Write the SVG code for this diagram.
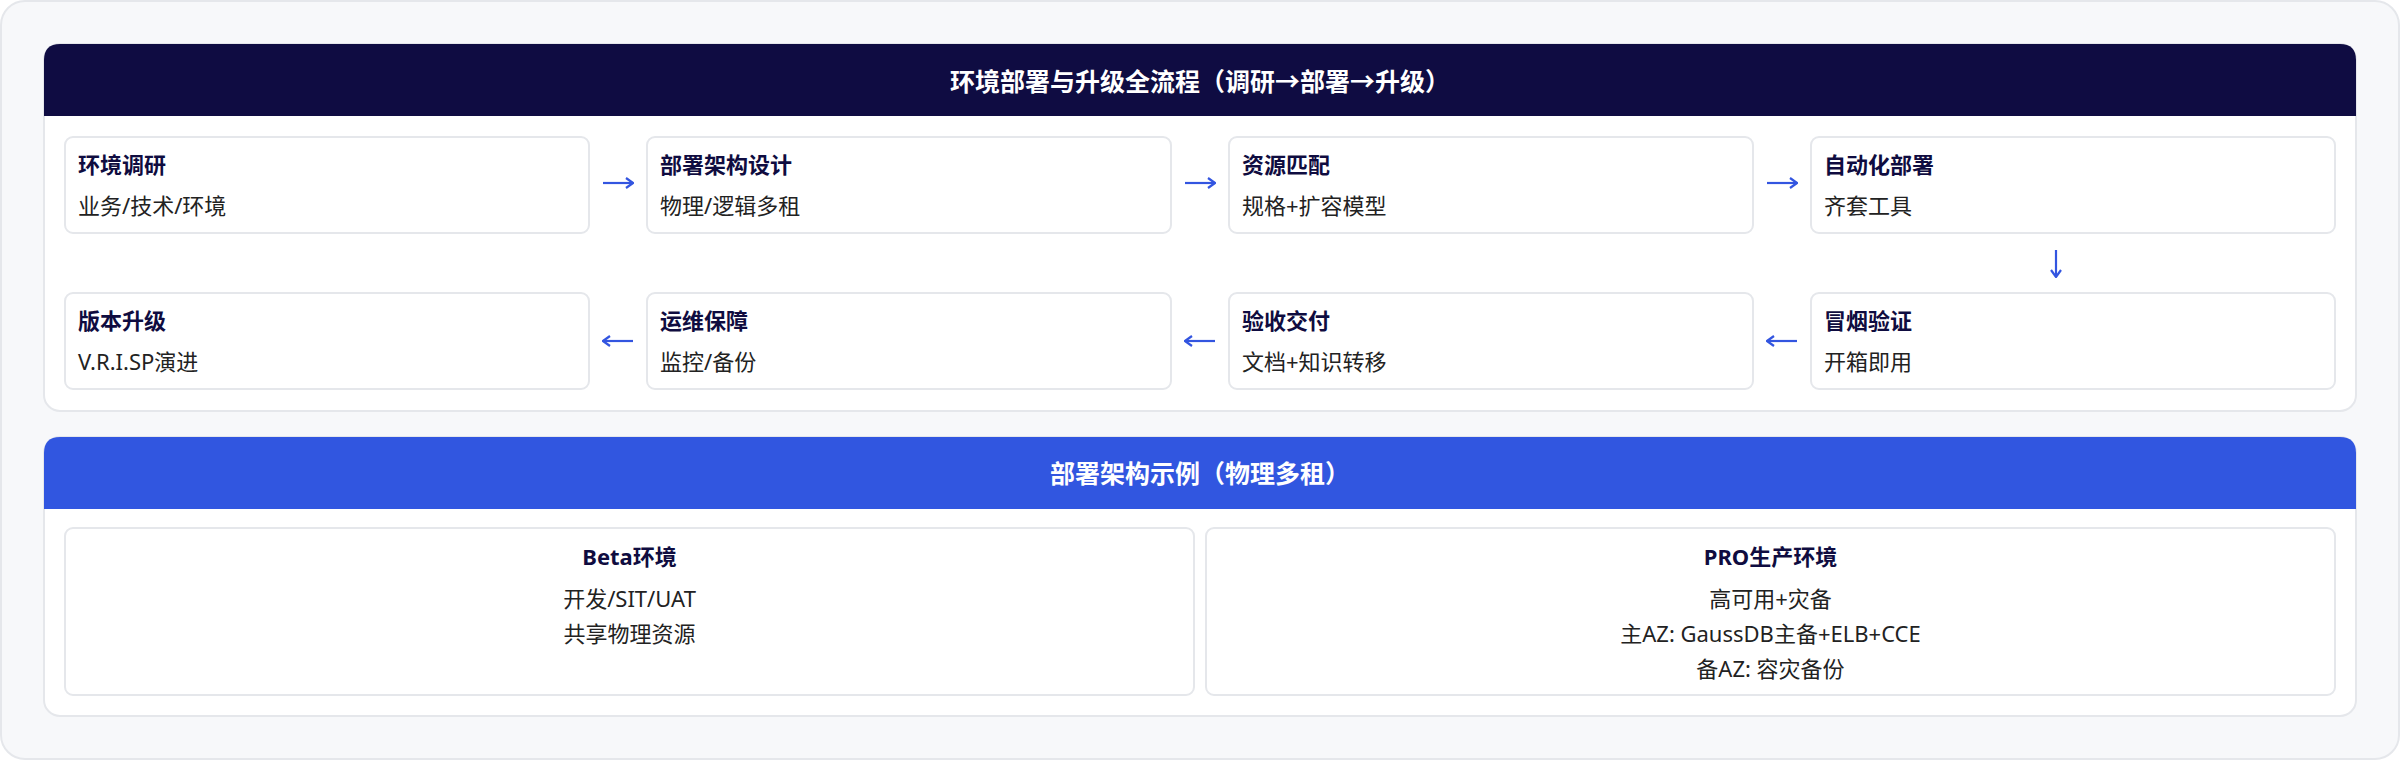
<svg xmlns="http://www.w3.org/2000/svg" width="2400" height="760" viewBox="0 0 2400 760">
<defs>
<style>
text{font-family:"Noto Sans","Noto Sans CJK SC",sans-serif;}
.frame{fill:#f7f8fa;stroke:#e5e7eb;stroke-width:2;}
.panel{fill:#ffffff;stroke:#e5e7eb;stroke-width:2;}
.node{fill:#ffffff;stroke:#e5e7eb;stroke-width:2;}
.hdr-text{fill:#ffffff;font-size:25px;font-weight:700;text-anchor:middle;}
.t{fill:#0f0c40;font-size:22px;font-weight:700;}
.s{fill:#222222;font-size:22px;}
.ct{fill:#0f0c40;font-size:22px;font-weight:700;text-anchor:middle;}
.cs{fill:#222222;font-size:22px;text-anchor:middle;}
.arrow{stroke:#3355e0;stroke-width:2.2;fill:none;marker-end:url(#ah);}
</style>
<marker id="ah" viewBox="0 0 10 12" refX="9" refY="6" markerWidth="10" markerHeight="12" markerUnits="userSpaceOnUse" orient="auto">
<path d="M2,1 L9,6 L2,11" fill="none" stroke="#3355e0" stroke-width="2.2"/>
</marker>
</defs>

<rect class="frame" x="1" y="1" width="2398" height="758" rx="24"/>

<g id="panel-flow">
<rect class="panel" x="44" y="44" width="2312" height="367" rx="16"/>
<path d="M44,116 V60 Q44,44 60,44 H2340 Q2356,44 2356,60 V116 Z" fill="#0f0c42"/>
<text class="hdr-text" x="1200" y="91">环境部署与升级全流程（调研→部署→升级）</text>
</g>

<g id="n1"><rect class="node" x="65" y="137" width="524" height="96" rx="8"/><text class="t" x="78" y="173">环境调研</text><text class="s" x="78" y="214">业务/技术/环境</text></g>
<g id="n2"><rect class="node" x="647" y="137" width="524" height="96" rx="8"/><text class="t" x="660" y="173">部署架构设计</text><text class="s" x="660" y="214">物理/逻辑多租</text></g>
<g id="n3"><rect class="node" x="1229" y="137" width="524" height="96" rx="8"/><text class="t" x="1242" y="173">资源匹配</text><text class="s" x="1242" y="214">规格+扩容模型</text></g>
<g id="n4"><rect class="node" x="1811" y="137" width="524" height="96" rx="8"/><text class="t" x="1824" y="173">自动化部署</text><text class="s" x="1824" y="214">齐套工具</text></g>
<g id="n5"><rect class="node" x="1811" y="293" width="524" height="96" rx="8"/><text class="t" x="1824" y="329">冒烟验证</text><text class="s" x="1824" y="370">开箱即用</text></g>
<g id="n6"><rect class="node" x="1229" y="293" width="524" height="96" rx="8"/><text class="t" x="1242" y="329">验收交付</text><text class="s" x="1242" y="370">文档+知识转移</text></g>
<g id="n7"><rect class="node" x="647" y="293" width="524" height="96" rx="8"/><text class="t" x="660" y="329">运维保障</text><text class="s" x="660" y="370">监控/备份</text></g>
<g id="n8"><rect class="node" x="65" y="293" width="524" height="96" rx="8"/><text class="t" x="78" y="329">版本升级</text><text class="s" x="78" y="370">V.R.I.SP演进</text></g>

<g id="connectors">
<path class="arrow" d="M603,183 H633"/>
<path class="arrow" d="M1185,183 H1215"/>
<path class="arrow" d="M1767,183 H1797"/>
<path class="arrow" d="M2056,250 V277"/>
<path class="arrow" d="M1797,341 H1767"/>
<path class="arrow" d="M1215,341 H1185"/>
<path class="arrow" d="M633,341 H603"/>
</g>

<g id="panel-arch">
<rect class="panel" x="44" y="437" width="2312" height="279" rx="16"/>
<path d="M44,509 V453 Q44,437 60,437 H2340 Q2356,437 2356,453 V509 Z" fill="#3156e0"/>
<text class="hdr-text" x="1200" y="483">部署架构示例（物理多租）</text>
</g>

<g id="beta"><rect class="node" x="65" y="528" width="1129" height="167" rx="8"/>
<text class="ct" x="629.5" y="565">Beta环境</text>
<text class="cs" x="629.5" y="607">开发/SIT/UAT</text>
<text class="cs" x="629.5" y="642">共享物理资源</text></g>

<g id="pro"><rect class="node" x="1206" y="528" width="1129" height="167" rx="8"/>
<text class="ct" x="1770.5" y="565">PRO生产环境</text>
<text class="cs" x="1770.5" y="607">高可用+灾备</text>
<text class="cs" x="1770.5" y="642">主AZ: GaussDB主备+ELB+CCE</text>
<text class="cs" x="1770.5" y="677">备AZ: 容灾备份</text></g>
</svg>
